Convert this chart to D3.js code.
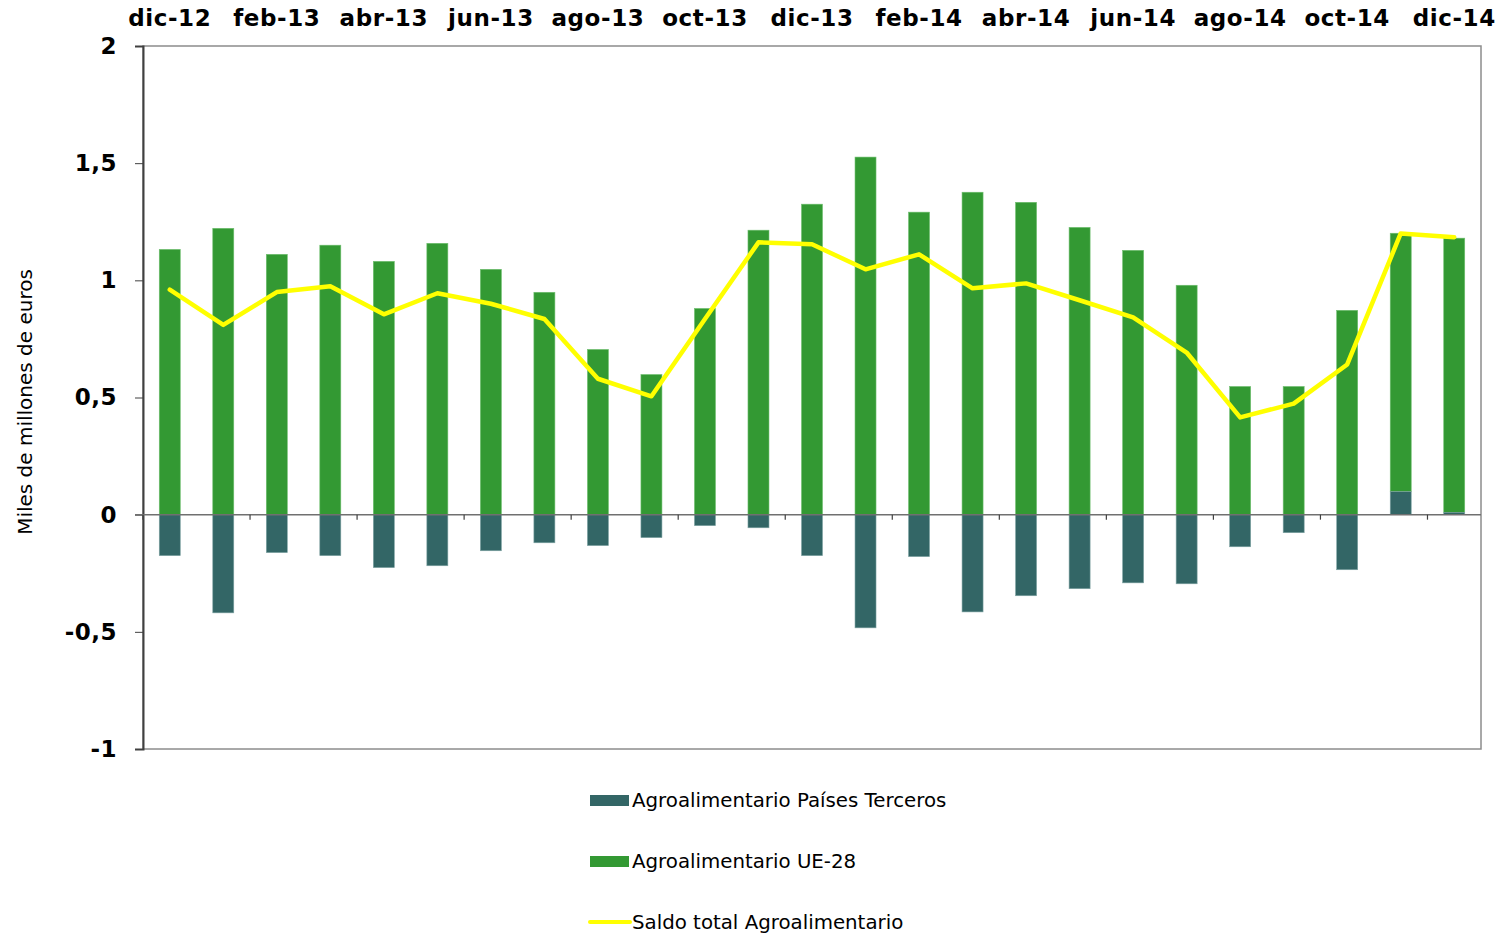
<!DOCTYPE html>
<html lang="es">
<head>
  <meta charset="utf-8">
  <title>Saldo agroalimentario</title>
  <script src="https://d3js.org/d3.v7.min.js"></script>
  <style>
    body { margin: 0; background: #fff; }
    text { font-family: "DejaVu Sans", Verdana, sans-serif; }
  </style>
</head>
<body>
<script>
  // meses dic-12 .. dic-14
  var meses = ["dic-12","ene-13","feb-13","mar-13","abr-13","may-13","jun-13","jul-13","ago-13","sep-13",
               "oct-13","nov-13","dic-13","ene-14","feb-14","mar-14","abr-14","may-14","jun-14","jul-14",
               "ago-14","sep-14","oct-14","nov-14","dic-14"];
  var paisesTerceros = [-0.175,-0.419,-0.162,-0.175,-0.226,-0.218,-0.154,-0.120,-0.132,-0.098,
                        -0.047,-0.056,-0.175,-0.483,-0.179,-0.415,-0.346,-0.316,-0.291,-0.295,
                        -0.137,-0.077,-0.235,0.098,0.010];
  var ue28 = [1.132,1.222,1.111,1.150,1.081,1.158,1.047,0.949,0.705,0.598,
              0.880,1.214,1.325,1.526,1.291,1.376,1.333,1.226,1.128,0.979,
              0.547,0.547,0.872,1.103,1.170];
  var saldoTotal = [0.960,0.810,0.950,0.975,0.855,0.945,0.900,0.835,0.580,0.505,
                    0.835,1.162,1.154,1.047,1.111,0.966,0.987,0.915,0.842,0.692,
                    0.415,0.474,0.641,1.200,1.184];
  var yTicks = [-1,-0.5,0,0.5,1,1.5,2];

  var W = 1510, H = 934;
  var mLeft = 143, mRight = 1481, mTop = 46, mBottom = 749;

  var svg = d3.select("body").append("svg")
    .attr("width", W).attr("height", H);

  var x = d3.scaleBand().domain(meses).range([mLeft, mRight]).paddingInner(0).paddingOuter(0);
  var y = d3.scaleLinear().domain([-1, 2]).range([mBottom, mTop]);
  var barW = 21;
  var fmt = function(d){ return String(d).replace(".", ","); };

  // marco del area de trazado
  svg.append("rect")
    .attr("x", mLeft).attr("y", mTop)
    .attr("width", mRight - mLeft).attr("height", mBottom - mTop)
    .attr("fill", "none").attr("stroke", "#8c8c8c").attr("stroke-width", 1.5);

  // barras UE-28 (encima de la parte positiva de paises terceros)
  svg.selectAll("rect.ue")
    .data(meses)
    .enter().append("rect")
    .attr("class", "ue")
    .attr("x", function(d){ return x(d) + x.bandwidth()/2 - barW/2; })
    .attr("y", function(d,i){ return y(Math.max(paisesTerceros[i],0) + ue28[i]); })
    .attr("width", barW)
    .attr("height", function(d,i){ return y(Math.max(paisesTerceros[i],0)) - y(Math.max(paisesTerceros[i],0) + ue28[i]); })
    .attr("fill", "#339933")
    .attr("stroke", "#6fbf6f").attr("stroke-width", 0.6);

  svg.selectAll("rect.pt")
    .data(meses)
    .enter().append("rect")
    .attr("class", "pt")
    .attr("x", function(d){ return x(d) + x.bandwidth()/2 - barW/2; })
    .attr("y", function(d,i){ return y(Math.max(paisesTerceros[i],0)); })
    .attr("width", barW)
    .attr("height", function(d,i){ return Math.abs(y(paisesTerceros[i]) - y(0)); })
    .attr("fill", "#336666")
    .attr("stroke", "#7fa3a3").attr("stroke-width", 0.6);

  // eje y
  var yAxis = svg.append("g")
    .attr("transform", "translate(" + mLeft + ",0)")
    .call(d3.axisLeft(y).tickValues(yTicks).tickSize(8).tickFormat(fmt));
  yAxis.select(".domain").attr("stroke", "#404040").attr("stroke-width", 2);
  yAxis.selectAll(".tick line").attr("stroke", "#404040");
  yAxis.selectAll(".tick text")
    .attr("x", -26)
    .attr("font-size", 23).attr("font-weight", "bold")
    .attr("font-family", "'DejaVu Sans', Verdana, sans-serif")
    .attr("letter-spacing", 0.5)
    .attr("fill", "#000");

  // linea del cero con marcas cada dos meses
  svg.append("line")
    .attr("x1", mLeft - 8).attr("x2", mRight)
    .attr("y1", y(0)).attr("y2", y(0))
    .attr("stroke", "#707070").attr("stroke-width", 1.5);
  var bordes = meses.filter(function(d,i){ return i % 2 === 0; });
  svg.selectAll("line.xt")
    .data(bordes)
    .enter().append("line")
    .attr("class", "xt")
    .attr("x1", function(d){ return x(d); }).attr("x2", function(d){ return x(d); })
    .attr("y1", y(0)).attr("y2", y(0) + 5)
    .attr("stroke", "#404040").attr("stroke-width", 1.2);

  // etiquetas superiores
  svg.selectAll("text.mes")
    .data(meses.filter(function(d,i){ return i % 2 === 0; }))
    .enter().append("text")
    .attr("class", "mes")
    .attr("x", function(d){ return x(d) + x.bandwidth()/2; })
    .attr("y", 26)
    .attr("text-anchor", "middle")
    .attr("font-size", 23).attr("font-weight", "bold")
    .attr("letter-spacing", 0.6)
    .text(function(d){ return d; });

  // linea saldo total
  var line = d3.line()
    .x(function(d,i){ return x(meses[i]) + x.bandwidth()/2; })
    .y(function(d){ return y(d); });
  svg.append("path")
    .datum(saldoTotal)
    .attr("d", line)
    .attr("fill", "none")
    .attr("stroke", "#ffff00")
    .attr("stroke-width", 4.5)
    .attr("stroke-linejoin", "round")
    .attr("stroke-linecap", "round");

  // titulo eje y
  svg.append("text")
    .attr("transform", "translate(32,402) rotate(-90)")
    .attr("text-anchor", "middle")
    .attr("font-size", 20)
    .text("Miles de millones de euros");

  // leyenda
  var leyenda = [
    {name: "Agroalimentario Países Terceros", color: "#336666", type: "bar"},
    {name: "Agroalimentario UE-28", color: "#339933", type: "bar"},
    {name: "Saldo total Agroalimentario", color: "#ffff00", type: "line"}
  ];
  var lg = svg.selectAll("g.leg")
    .data(leyenda)
    .enter().append("g")
    .attr("class", "leg")
    .attr("transform", function(d,i){ return "translate(590," + (800 + i*61) + ")"; });
  lg.each(function(d){
    var g = d3.select(this);
    if (d.type === "bar") {
      g.append("rect").attr("x", 0).attr("y", -5).attr("width", 39).attr("height", 11).attr("fill", d.color);
    } else {
      g.append("line").attr("x1", 0).attr("x2", 40).attr("y1", 0).attr("y2", 0)
        .attr("stroke", d.color).attr("stroke-width", 4).attr("stroke-linecap", "round");
    }
    g.append("text").attr("x", 42).attr("y", 7).attr("font-size", 19.8).text(d.name);
  });
</script>
</body>
</html>
